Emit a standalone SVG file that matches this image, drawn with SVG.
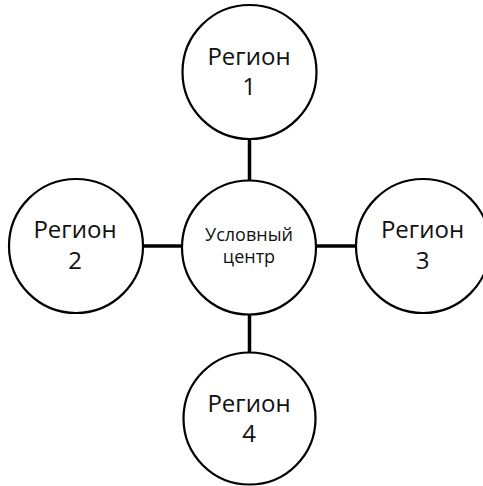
<svg xmlns="http://www.w3.org/2000/svg" width="483" height="486" viewBox="0 0 483 486">
<style>
.node circle{fill:#fff;stroke:#000;stroke-width:2.2}
.lbl{font-family:"Open Sans","Noto Sans",sans-serif;font-size:24px;fill:#111;text-anchor:middle}
.sm{font-size:18px}
.conn line{stroke:#000;stroke-width:3.5}
</style>
<rect width="483" height="486" fill="#fff"/>
<g id="connectors" class="conn">
<line x1="249.5" y1="138" x2="249.5" y2="181"/>
<line x1="249.5" y1="313" x2="249.5" y2="354"/>
<line x1="142" y1="246" x2="184" y2="246"/>
<line x1="314" y1="246" x2="357" y2="246"/>
</g>
<g id="center" class="node">
<circle cx="249" cy="247.5" r="67"/>
<text class="lbl sm" x="249" y="241">Условный</text>
<text class="lbl sm" x="249" y="263">центр</text>
</g>
<g id="region1" class="node">
<circle cx="249.5" cy="72" r="67"/>
<text class="lbl" x="249" y="65">Регион</text>
<text class="lbl" x="249" y="95">1</text>
</g>
<g id="region2" class="node">
<circle cx="76" cy="246" r="67"/>
<text class="lbl" x="75" y="238">Регион</text>
<text class="lbl" x="75" y="269">2</text>
</g>
<g id="region3" class="node">
<circle cx="423" cy="246" r="67"/>
<text class="lbl" x="422.5" y="238">Регион</text>
<text class="lbl" x="422.5" y="269">3</text>
</g>
<g id="region4" class="node">
<circle cx="249.5" cy="418.5" r="66"/>
<text class="lbl" x="249" y="412">Регион</text>
<text class="lbl" x="249" y="442">4</text>
</g>
</svg>
